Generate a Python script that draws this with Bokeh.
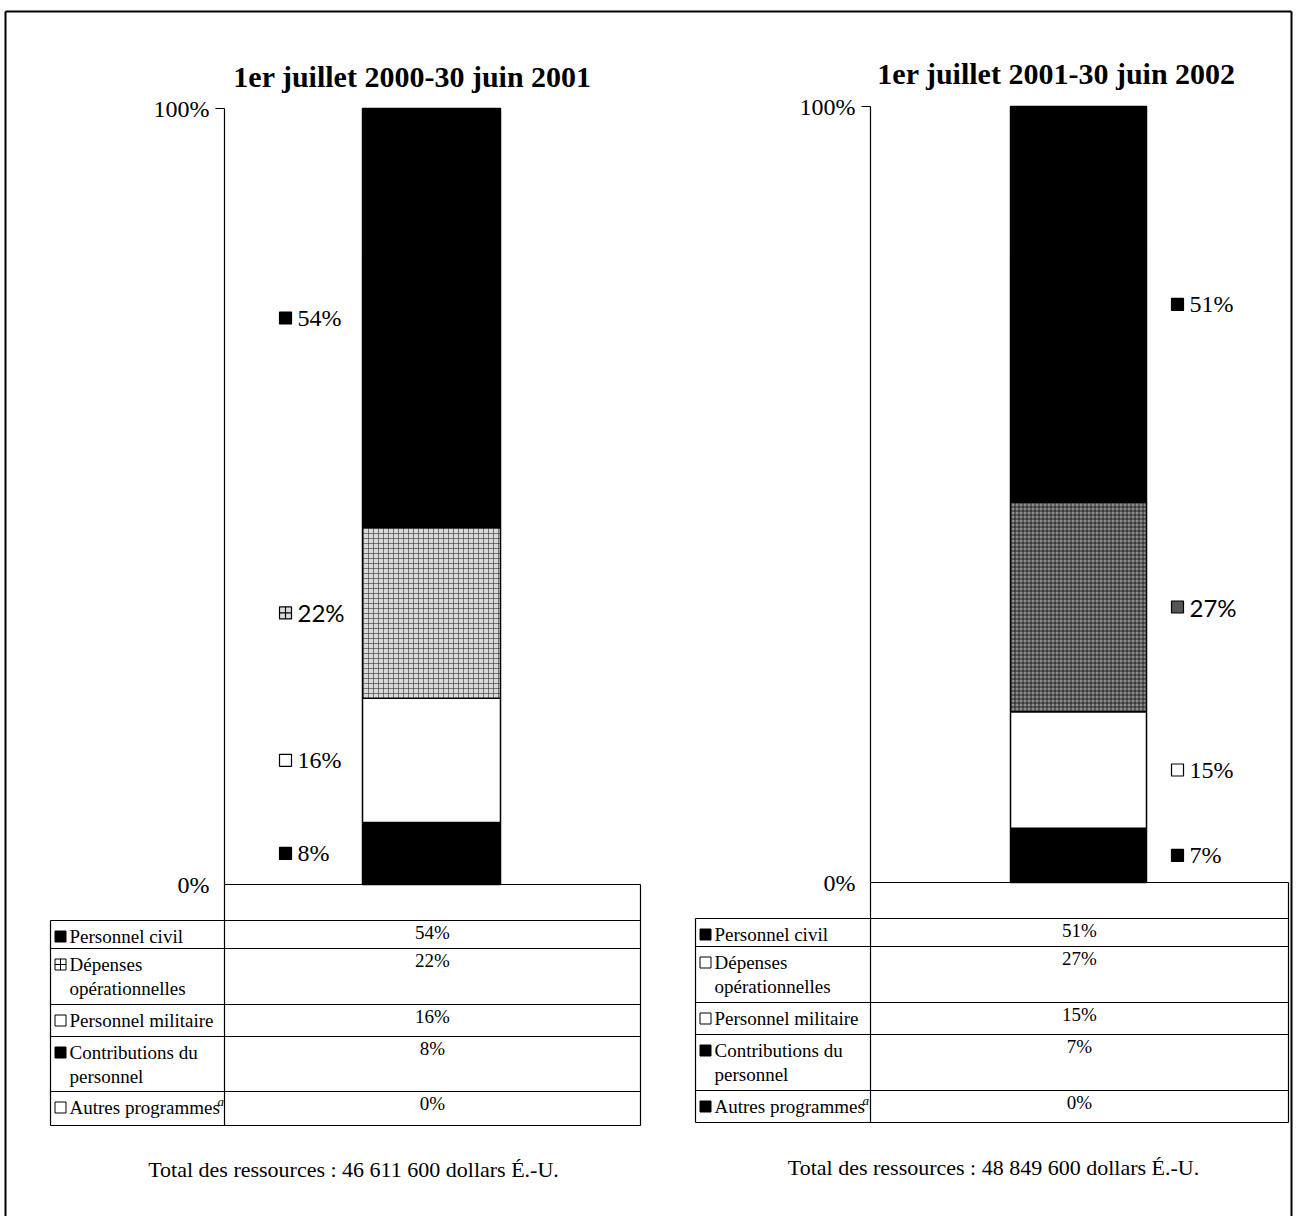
from bokeh.plotting import figure
from bokeh.models import Range1d
from bokeh.core.properties import value
from bokeh.embed import file_html
from bokeh.resources import INLINE

# ---------------- data ----------------
categories = ["Personnel civil", "Dépenses opérationnelles", "Personnel militaire",
              "Contributions du personnel", "Autres programmes"]
table_lines = [["Personnel civil"], ["Dépenses", "opérationnelles"], ["Personnel militaire"],
               ["Contributions du", "personnel"], ["Autres programmes"]]
periods = ["1er juillet 2000-30 juin 2001", "1er juillet 2001-30 juin 2002"]
values_2001 = [54, 22, 16, 8, 0]
values_2002 = [51, 27, 15, 7, 0]
totals = ["46 611 600", "48 849 600"]
y_ticks = [0, 100]
tick_labels = ["0%", "100%"]
stack_order = [3, 2, 1, 0]   # bottom -> top in the bar

# ---------------- layout / style ----------------
SERIF = "Liberation Serif"
SANS = "Lato"
W, H = 1294, 1216
X0, Y0 = 0, 0

panels = [
    dict(vals=values_2001, axis_x=224, y0=884, y100=108, bar_x=431, bar_w=138,
         tx0=50, tx1=640, rows=[920, 948, 1004, 1036, 1091, 1125],
         title=(412, 76), footer=(353, 1169), mx=285, tx=297,
         seg_fill=["black", "pat_light", "white", "black", "white"],
         tab_mark=["black", "cross", "white", "black", "white"],
         lab_mark=["black", "cross", "white", "black"]),
    dict(vals=values_2002, axis_x=870, y0=882, y100=106, bar_x=1078, bar_w=136,
         tx0=695, tx1=1288, rows=[918, 946, 1002, 1034, 1090, 1122],
         title=(1056, 73), footer=(993, 1167), mx=1177, tx=1189,
         seg_fill=["black", "pat_dark", "white", "black", "black"],
         tab_mark=["black", "white", "white", "black", "black"],
         lab_mark=["black", "dark", "white", "black"]),
]

p = figure(width=W, height=H, x_range=Range1d(X0, X0 + W), y_range=Range1d(Y0 + H, Y0),
           output_backend="svg", toolbar_location=None, min_border=0)
p.axis.visible = False
p.grid.visible = False
p.outline_line_color = None
p.background_fill_color = "white"
p.border_fill_color = "white"

# outer frame (open at bottom like the scan)
p.segment(x0=[5, 5, 1291], y0=[1216, 11, 11], x1=[5, 1291, 1291], y1=[11, 11, 1216],
          line_color="black", line_width=2)

for k, pn in enumerate(panels):
    s = (pn["y0"] - pn["y100"]) / 100.0
    rname = "pct%d" % k
    p.extra_y_ranges[rname] = Range1d(start=(pn["y0"] - (Y0 + H)) / s, end=(pn["y0"] - Y0) / s)
    vals = pn["vals"]
    ax = pn["axis_x"]

    # stacked bar
    bottom = 0
    mids = {}
    for i in stack_order:
        top = bottom + vals[i]
        mids[i] = (bottom + top) / 2.0
        f = pn["seg_fill"][i]
        kw = dict(x=[pn["bar_x"]], width=pn["bar_w"], bottom=[bottom], top=[top],
                  y_range_name=rname, line_color="black", line_width=1.5)
        if f == "pat_light":
            p.vbar(fill_color="#d8d8d8", hatch_pattern="cross", hatch_color="#222222",
                   hatch_scale=5, hatch_weight=1, hatch_alpha=0.55, **kw)
        elif f == "pat_dark":
            p.vbar(fill_color="#8c8c8c", hatch_pattern="cross", hatch_color="black",
                   hatch_scale=4, hatch_weight=1, hatch_alpha=0.7, **kw)
        else:
            p.vbar(fill_color=f, **kw)
        bottom = top

    # axis line, ticks and tick labels
    p.segment(x0=[ax], y0=[y_ticks[0]], x1=[ax], y1=[y_ticks[1]], y_range_name=rname,
              line_color="black", line_width=1.2)
    p.segment(x0=[ax - 9], y0=[y_ticks[1]], x1=[ax], y1=[y_ticks[1]], y_range_name=rname,
              line_color="black", line_width=1.2)
    p.segment(x0=[ax], y0=[y_ticks[0]], x1=[pn["tx1"]], y1=[y_ticks[0]], y_range_name=rname,
              line_color="black", line_width=1.2)
    p.text(x=[ax - 15, ax - 15], y=y_ticks, text=tick_labels, y_range_name=rname,
           text_align="right", text_baseline="middle", text_font=value(SERIF),
           text_font_size="24px", text_color="black")

    # value labels beside the bar
    lab_y = [mids[i] for i in stack_order]
    lab_t = ["%d%%" % vals[i] for i in stack_order]
    lab_m = [pn["lab_mark"][i] for i in stack_order]
    for yy, tt, mm, ii in zip(lab_y, lab_t, lab_m, stack_order):
        fc = {"black": "black", "white": "white", "cross": "#dddddd", "dark": "#555555"}[mm]
        mk = "square_cross" if mm == "cross" else "square"
        p.scatter(x=[pn["mx"]], y=[yy], marker=mk, size=12, fill_color=fc, line_color="black",
                  line_width=1.2, y_range_name=rname)
        font = SANS if ii == 1 else SERIF
        p.text(x=[pn["tx"]], y=[yy], text=[tt], y_range_name=rname, text_align="left",
               text_baseline="middle", text_font=value(font), text_font_size="24px",
               text_color="black")

    # table
    rows = pn["rows"]
    tx0, tx1 = pn["tx0"], pn["tx1"]
    p.segment(x0=[tx0] * len(rows), y0=rows, x1=[tx1] * len(rows), y1=rows,
              line_color="black", line_width=1.2)
    p.segment(x0=[tx0, ax, tx1], y0=[rows[0], pn["y0"], pn["y0"]],
              x1=[tx0, ax, tx1], y1=[rows[-1], rows[-1], rows[-1]],
              line_color="black", line_width=1.2)
    for r in range(len(categories)):
        rt = rows[r]
        m = pn["tab_mark"][r]
        fc = {"black": "black", "white": "white", "cross": "white"}[m]
        mk = "square_cross" if m == "cross" else "square"
        p.scatter(x=[tx0 + 10], y=[rt + 16], marker=mk, size=11, fill_color=fc,
                  line_color="black", line_width=1)
        for li, line in enumerate(table_lines[r]):
            p.text(x=[tx0 + 19], y=[rt + 16 + 24 * li], text=[line], text_align="left",
                   text_baseline="middle", text_font=value(SERIF), text_font_size="19px",
                   text_color="black")
        p.text(x=[(ax + tx1) / 2.0], y=[rt + 12], text=["%d%%" % vals[r]], text_align="center",
               text_baseline="middle", text_font=value(SERIF), text_font_size="19px",
               text_color="black")
    # footnote marker on "Autres programmes"
    p.text(x=[tx0 + 167], y=[rows[4] + 10], text=["a"], text_align="left",
           text_baseline="middle", text_font=value(SERIF), text_font_style="italic",
           text_font_size="13px", text_color="black")

    # title and footer
    p.text(x=[pn["title"][0]], y=[pn["title"][1]], text=[periods[k]], text_align="center",
           text_baseline="middle", text_font=value(SERIF), text_font_style="bold",
           text_font_size="30px", text_color="black")
    p.text(x=[pn["footer"][0]], y=[pn["footer"][1]],
           text=["Total des ressources : %s dollars É.-U." % totals[k]], text_align="center",
           text_baseline="middle", text_font=value(SERIF), text_font_size="22px",
           text_color="black")

open("out.html", "w").write(file_html(p, INLINE))
